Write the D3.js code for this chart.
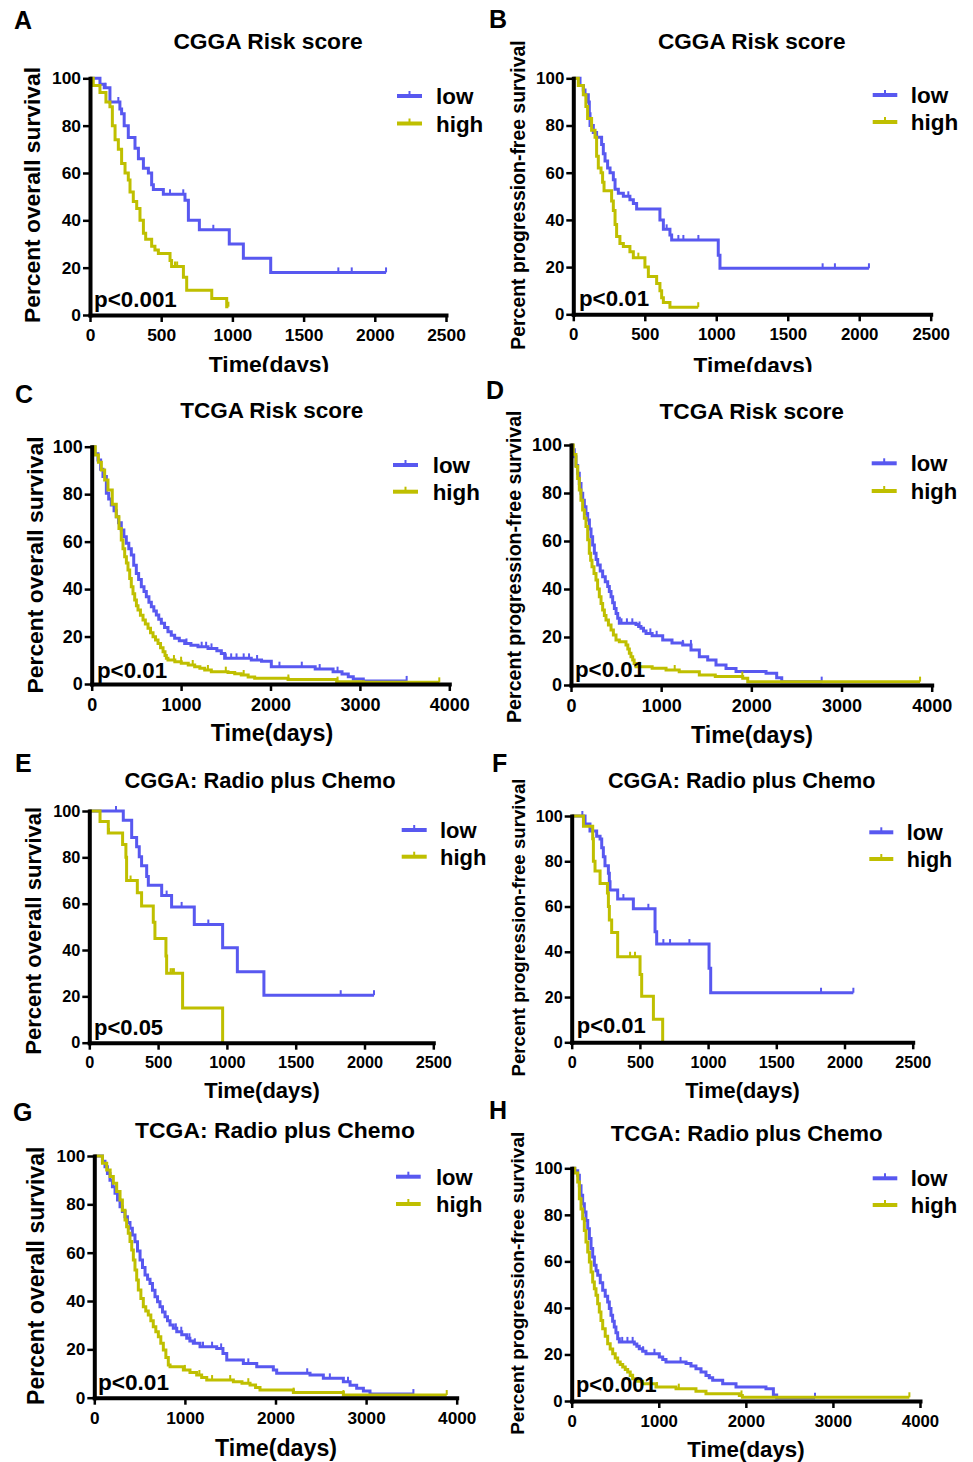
<!DOCTYPE html>
<html>
<head>
<meta charset="utf-8">
<script src="https://cdn.jsdelivr.net/npm/d3@7"></script>
<style>
  body { margin: 0; background: #fff; }
  text { font-family: "Liberation Sans", Arial, sans-serif; font-weight: bold; fill: #000; }
</style>
</head>
<body>
<div id="chart"></div>
<script>
// ---- labels ----
var panelLetters = ["A", "B", "C", "D", "E", "F", "G", "H"];
var panelTitles = ["CGGA Risk score", "CGGA Risk score", "TCGA Risk score", "TCGA Risk score",
                   "CGGA: Radio plus Chemo", "CGGA: Radio plus Chemo", "TCGA: Radio plus Chemo", "TCGA: Radio plus Chemo"];
var yTitles = ["Percent overall survival", "Percent progression-free survival",
               "Percent overall survival", "Percent progression-free survival",
               "Percent overall survival", "Percent progression-free survival",
               "Percent overall survival", "Percent progression-free survival"];
var pTexts = ["p<0.001", "p<0.01", "p<0.01", "p<0.01", "p<0.05", "p<0.01", "p<0.01", "p<0.001"];
var groups = ["low", "high"];
var xTitle = "Time(days)";
var yTicks = [0, 20, 40, 60, 80, 100];
var xTicksShort = [0, 500, 1000, 1500, 2000, 2500];
var xTicksLong = [0, 1000, 2000, 3000, 4000];

// ---- survival curves: [day, percent] at each step ----
var aLow = [[0,100],[70,97.5],[100,96],[140,90],[210,87],[222,85],[240,80],[269,75],[316,70.5],[340,66],[375,62],[410,60],[433,55],[445,53],[515,51],[667,48.5],[691,40],[768,36],[978,30],[1077,24],[1269,18],[2079,18]];
var aHigh = [[0,100],[23,97],[70,94],[112,90],[140,88],[157,80],[176,74],[199,70],[222,64],[246,60],[269,57],[281,52],[304,48],[328,45],[351,40],[375,34.5],[391,32],[433,29],[456,27.5],[480,26],[562,23],[573,20.5],[656,16],[679,10.5],[855,7],[960,3.5],[972,3.5]];
var aLowCens = [110, 199, 562, 655, 866, 1744, 1838, 2079];
var aHighCens = [597, 612, 972];

var bLow = [[0,100],[47,97],[70,95],[82,93],[105,90],[112,85],[117,80],[140,77],[163,75],[198,72],[210,68],[222,65],[240,62],[257,60],[280,57],[292,53],[315,51.3],[350,50],[396,48.5],[420,47],[443,44.6],[606,40],[630,36],[676,33.6],[688,31.5],[1014,25],[1026,19.5],[2068,19.5]];
var bHigh = [[0,100],[35,97],[70,93],[88,88],[100,83],[128,78],[152,75],[163,67],[175,62],[194,60],[205,56],[215,52.3],[268,48],[280,44],[292,38],[303,33],[326,30],[350,28.7],[396,26.5],[420,24],[501,20],[525,16],[583,13],[606,10],[618,7],[630,5],[676,3],[874,3]];
var bLowCens = [75, 385, 653, 735, 770, 875, 1744, 1830, 2068];
var bHighCens = [455, 874];

var cLow = [[0,100],[35,97],[70,94.4],[100,90.5],[126,87.4],[164,80.4],[190,78],[219,75.4],[250,73],[275,70.5],[300,68],[331,64.9],[360,62],[387,59.3],[415,57],[443,54.4],[470,50],[499,46.6],[525,44],[555,41],[585,39],[611,36.8],[640,34.5],[667,32.6],[695,30.8],[723,29.1],[750,27.3],[779,25.6],[815,23.8],[853,22],[890,20.5],[928,19.3],[980,18.2],[1040,17.1],[1110,16.3],[1189,15.7],[1301,15],[1400,14],[1450,12.9],[1487,10.8],[1785,10.1],[1900,9.6],[2009,7.3],[2500,6.3],[2700,5.2],[2800,4.2],[2870,3.1],[2926,2.1],[3038,1.3],[3523,1.3]];
var cHigh = [[0,100],[40,96.5],[75,93.5],[108,90.2],[145,86],[182,81.8],[230,75.8],[275,70.5],[305,65.5],[331,60.7],[350,57],[369,53.6],[388,51],[406,48],[425,44.5],[443,41],[462,38],[481,35.4],[500,33],[518,31.2],[545,29],[574,27],[600,25.3],[630,23.5],[658,21.6],[686,19.9],[714,18.5],[742,17.1],[770,15.3],[798,13.6],[820,12],[835,10.8],[853,10.1],[930,9.4],[1002,8.7],[1080,8],[1152,7.3],[1210,6.6],[1264,5.9],[1338,5.2],[1525,4.8],[1600,4.3],[1673,3.8],[1750,3],[1823,2.4],[2196,1.9],[2740,1],[3038,0.7],[3888,0.7]];
var cLowCens = [1060, 1230, 1280, 1340, 1500, 1560, 1620, 1700, 1760, 1850, 2100, 2350, 2550, 2750, 3523];
var cHighCens = [920, 1000, 1130, 1300, 1500, 1700, 2200, 2750, 3888];

var dLow = [[0,100],[20,98],[37,95.1],[55,91.5],[74,88.2],[92,84],[111,79.9],[130,77],[148,74.3],[166,71.5],[185,68.75],[204,65],[222,61.8],[240,58.3],[259,54.9],[278,52.3],[296,50],[324,47.5],[351,45.1],[380,43],[407,41],[425,39],[444,36.8],[462,34.3],[481,31.9],[500,29.8],[518,27.8],[536,25.7],[721,25.2],[750,24.4],[776,23.6],[804,22.5],[832,21.5],[900,20.5],[1017,18.75],[1120,17.5],[1239,16.7],[1331,14.6],[1423,11.8],[1516,10.4],[1608,8.3],[1719,6.9],[1830,5.6],[2163,4.9],[2281,3],[2337,1.4],[2780,1.4]];
var dHigh = [[0,100],[25,96],[55,91],[74,86],[92,81.25],[110,77],[129,72.9],[148,69.5],[166,66],[185,60.5],[203,54.9],[218,52],[233,49.3],[255,46.5],[277,43.75],[295,40],[314,36.8],[333,34],[351,31.25],[370,29],[388,27.1],[415,25],[444,22.9],[470,20.8],[499,18.75],[536,18],[610,16.7],[630,15],[647,13.2],[665,11.8],[684,10.4],[700,9],[721,7.6],[900,7],[1054,6.25],[1200,5.5],[1423,4.2],[1600,3.5],[1904,2.8],[1960,1.4],[3871,1.4]];
var dLowCens = [560, 620, 680, 760, 880, 950, 1240, 1330, 2780];
var dHighCens = [760, 1150, 1900, 3871];

var eLow = [[0,100],[247,96],[308,88.6],[344,84.6],[363,80.3],[380,76.4],[417,71.7],[429,68],[526,63.5],[598,58.6],[763,51],[969,41],[1076,30.6],[1269,20.5],[2069,20.5]];
var eHigh = [[0,100],[78,95.5],[138,90.5],[242,85.5],[266,80],[271,70],[349,64.7],[380,59],[465,52],[477,45],[557,37.4],[562,30],[678,15],[969,0]];
var eLowCens = [194, 562, 671, 865, 1827, 2069];
var eHighCens = [143, 300, 591, 603, 615];

var fLow = [[0,100],[98,96.5],[134,93.4],[183,91],[208,89.8],[220,86],[232,82],[244,78],[269,74.7],[276,71],[281,67.3],[337,63.3],[452,59],[611,48.9],[623,43.4],[1007,32.7],[1019,21.9],[2065,21.9]];
var fHigh = [[0,100],[86,95.5],[154,90],[159,80],[171,75.7],[208,70.2],[262,66],[269,60],[276,54],[293,48.5],[337,37.8],[501,30],[513,20.4],[599,10.2],[667,0]];
var fLowCens = [78, 147, 379, 562, 672, 721, 863, 1828, 2065];
var fHighCens = [428, 464];

var gLow = [[0,100],[63,100],[90,97.8],[118,95.6],[145,92.8],[173,90],[200,87.3],[229,84.6],[256,81.8],[284,79],[310,77],[339,74.9],[366,72.5],[394,70.1],[420,67.3],[449,64.5],[477,60.7],[505,57],[532,53.9],[560,50.8],[588,49],[615,47.3],[642,44.5],[670,41.8],[698,39.7],[725,37.6],[753,35.5],[781,33.5],[808,31.8],[836,30.1],[872,28.7],[910,27.3],[965,26],[1020,24.6],[1055,23.5],[1093,22.5],[1167,21.1],[1351,20.4],[1420,18.3],[1462,15.6],[1645,14.2],[1793,12.8],[1976,11.5],[2013,10.1],[2381,9.4],[2528,8],[2749,6.6],[2823,5.2],[2896,3.9],[2970,2.8],[3043,1.5],[3522,1.5]];
var gHigh = [[0,100],[44,100],[90,97],[137,94.2],[175,91.5],[210,88.7],[247,85.3],[284,81.8],[310,77.6],[339,73.5],[357,70.7],[375,68],[394,64.6],[413,61.1],[431,57],[449,52.8],[468,48.7],[486,44.6],[514,41],[541,37.6],[568,35.9],[596,34.2],[624,31.8],[651,29.4],[679,27.3],[707,25.2],[734,22.5],[762,19.7],[790,16.6],[817,13.5],[836,12.8],[983,11.5],[1056,10.4],[1130,9.4],[1185,8.4],[1241,7.3],[1535,6.6],[1630,6],[1719,5.3],[1780,4.2],[1829,3.2],[2197,2.1],[2749,1.1],[3890,1.1]];
var gLowCens = [900, 960, 1050, 1110, 1200, 1300, 1400, 1700, 2350, 2600, 2800, 3522];
var gHighCens = [1000, 1160, 1300, 1500, 1700, 2200, 2750, 3890];

var hLow = [[0,100],[35,99],[69,97],[88,92.5],[107,88.4],[126,84.8],[145,81.2],[164,77.6],[184,74],[203,69.8],[222,65.5],[241,61.9],[260,58.3],[280,56],[299,54],[328,50.8],[356,47.6],[385,45],[413,42.5],[432,39.7],[451,36.8],[470,34.3],[489,31.8],[508,29.3],[528,26.8],[547,25.4],[719,24.5],[748,23.5],[776,22.5],[815,21.4],[853,20.3],[1006,18.9],[1045,17.8],[1083,16.8],[1313,16.1],[1370,15],[1427,13.9],[1485,12.5],[1542,11],[1580,10],[1619,8.9],[1734,7.4],[1887,6],[2231,5.3],[2316,2.6],[2354,1.4],[2794,1.4]];
var hHigh = [[0,100],[35,98],[69,94.1],[88,86.9],[107,82.5],[126,78.3],[145,73.3],[164,68.3],[184,64],[203,59.7],[222,55.4],[241,51.1],[260,48.2],[279,45.4],[298,41.8],[317,38.2],[336,34.6],[356,31.1],[385,27.8],[413,24.6],[442,22.4],[471,20.3],[500,18.5],[528,16.8],[557,15.7],[586,14.6],[615,13.5],[643,12.5],[672,11],[700,9.6],[758,8.5],[815,7.4],[968,6],[1198,5.3],[1427,4.2],[1542,3.1],[1925,2.4],[1960,1.6],[3878,1.6]];
var hLowCens = [580, 640, 700, 820, 950, 1250, 2794];
var hHighCens = [700, 980, 1230, 1950, 3878];

var colors = ["#5858f0", "#bfbf00"];

// ---- layout of the 8 panels (pixel positions) ----
var panels = [
  {x0: 90, x1: 446, yTop: 78.3, yBot: 315, xTicks: xTicksShort, tick: 17.4,
   letter: [14, 29], title: [268, 49, 22.8], ylab: [40, 195, 22.8], xlab: [269, 371.5, 22.9],
   p: [94, 307, 22.4], leg: [397, 422, 96, 123.5, 436, 22.4], clip: true,
   curves: [[aLow, aLowCens], [aHigh, aHighCens]]},
  {x0: 573.3, x1: 930.7, yTop: 78.3, yBot: 314.3, xTicks: xTicksShort, tick: 16.9,
   letter: [489, 28], title: [751.7, 49, 22.6], ylab: [525, 195, 19.4], xlab: [753, 372.5, 22.6],
   p: [579, 306, 22.3], leg: [872.7, 897.3, 95, 122, 910.7, 22.5], clip: true,
   curves: [[bLow, bLowCens], [bHigh, bHighCens]]},
  {x0: 91.7, x1: 449.3, yTop: 446.7, yBot: 684, xTicks: xTicksLong, tick: 18,
   letter: [15, 403], title: [271.7, 418, 22.5], ylab: [42.7, 565, 22.9], xlab: [272, 740.5, 23.3],
   p: [97, 677.7, 22.3], leg: [393, 418, 465, 491.7, 432.7, 22.4],
   curves: [[cLow, cLowCens], [cHigh, cHighCens]]},
  {x0: 571, x1: 931.7, yTop: 445, yBot: 685, xTicks: xTicksLong, tick: 18,
   letter: [486, 399], title: [751.7, 419, 22.7], ylab: [520.7, 566.7, 19.6], xlab: [752, 742.5, 23.2],
   p: [575, 677, 22.3], leg: [871.7, 896.7, 463.3, 491, 910.7, 22],
   curves: [[dLow, dLowCens], [dHigh, dHighCens]]},
  {x0: 89.3, x1: 433.3, yTop: 811, yBot: 1042.7, xTicks: xTicksShort, tick: 16.3,
   letter: [15, 772], title: [260, 788, 21.9], ylab: [40.7, 930.8, 22.1], xlab: [262, 1098, 22],
   p: [94, 1035, 22], leg: [401.7, 426.7, 830, 856.7, 440, 22],
   curves: [[eLow, eLowCens], [eHigh, eHighCens]]},
  {x0: 571.7, x1: 912.7, yTop: 816, yBot: 1042.3, xTicks: xTicksShort, tick: 16.2,
   letter: [492, 772], title: [741.7, 788, 21.6], ylab: [525, 927.5, 18.7], xlab: [742.5, 1097.5, 21.8],
   p: [576.7, 1033, 22], leg: [869.3, 893.3, 832.3, 859, 906.7, 21.6],
   curves: [[fLow, fLowCens], [fHigh, fHighCens]]},
  {x0: 94.3, x1: 456.7, yTop: 1156, yBot: 1397.7, xTicks: xTicksLong, tick: 17.2,
   letter: [13, 1121], title: [275, 1138, 22.9], ylab: [44, 1275.8, 23], xlab: [276, 1456, 23.2],
   p: [98, 1390, 22.6], leg: [396, 420.7, 1176.7, 1204, 436, 22],
   curves: [[gLow, gLowCens], [gHigh, gHighCens]]},
  {x0: 571.7, x1: 920, yTop: 1168.3, yBot: 1401, xTicks: xTicksLong, tick: 16.8,
   letter: [489, 1119], title: [746.7, 1140.7, 22.25], ylab: [524, 1283.3, 19], xlab: [746, 1457, 22.3],
   p: [576, 1391.7, 21.8], leg: [872.7, 897.3, 1178.3, 1205, 910.7, 22],
   curves: [[hLow, hLowCens], [hHigh, hHighCens]]}
];

var W = 973, H = 1462;
var svg = d3.select("#chart").append("svg")
    .attr("width", W)
    .attr("height", H);

svg.append("rect").attr("width", W).attr("height", H).attr("fill", "#fff");

// the top row is cropped just under its x-axis title in the figure
svg.append("defs").append("clipPath")
    .attr("id", "cropTop")
  .append("rect")
    .attr("x", 0).attr("y", 0)
    .attr("width", W).attr("height", 372);

function drawPanel(p, i) {
  var g = svg.append("g");
  var xMax = d3.max(p.xTicks);

  var x = d3.scaleLinear().domain([0, xMax]).range([p.x0, p.x1]);
  var y = d3.scaleLinear().domain([0, 100]).range([p.yBot, p.yTop]);

  // Kaplan-Meier step curves
  var line = d3.line()
    .x(function(d) { return x(d[0]); })
    .y(function(d) { return y(d[1]); })
    .curve(d3.curveStepAfter);

  var bis = d3.bisector(function(d) { return d[0]; }).right;

  p.curves.forEach(function(c, k) {
    var pts = c[0], cens = c[1];
    g.append("path")
      .datum(pts)
      .attr("d", line)
      .attr("fill", "none")
      .attr("stroke", colors[k])
      .attr("stroke-width", 3);

    // censor ticks
    g.selectAll(null)
      .data(cens)
      .enter()
      .append("line")
        .attr("x1", function(t) { return x(t); })
        .attr("x2", function(t) { return x(t); })
        .attr("y1", function(t) { return y(pts[Math.max(0, bis(pts, t) - 1)][1]); })
        .attr("y2", function(t) { return y(pts[Math.max(0, bis(pts, t) - 1)][1]) - 5; })
        .attr("stroke", colors[k])
        .attr("stroke-width", 2);
  });

  // axes
  var yAxis = g.append("g")
    .attr("transform", "translate(" + p.x0 + ",0)")
    .call(d3.axisLeft(y).tickValues(yTicks).tickFormat(d3.format("d"))
      .tickSize(7).tickSizeOuter(0).tickPadding(2));
  var xAxis = g.append("g")
    .attr("transform", "translate(0," + p.yBot + ")")
    .call(d3.axisBottom(x).tickValues(p.xTicks).tickFormat(d3.format("d"))
      .tickSize(7).tickSizeOuter(0).tickPadding(7));

  [yAxis, xAxis].forEach(function(a) {
    a.select(".domain").attr("stroke", "#000").attr("stroke-width", 4).attr("stroke-linecap", "square");
    a.selectAll(".tick line").attr("stroke", "#000").attr("stroke-width", 2.5);
    a.selectAll(".tick text").style("font-size", p.tick + "px");
  });

  // p value
  g.append("text")
    .attr("x", p.p[0])
    .attr("y", p.p[1])
    .style("font-size", p.p[2] + "px")
    .text(pTexts[i]);

  // title
  g.append("text")
    .attr("x", p.title[0])
    .attr("y", p.title[1])
    .attr("text-anchor", "middle")
    .style("font-size", p.title[2] + "px")
    .text(panelTitles[i]);

  // panel letter
  g.append("text")
    .attr("x", p.letter[0])
    .attr("y", p.letter[1])
    .style("font-size", "25px")
    .text(panelLetters[i]);

  // y axis title
  g.append("text")
    .attr("transform", "translate(" + p.ylab[0] + "," + p.ylab[1] + ") rotate(-90)")
    .attr("text-anchor", "middle")
    .style("font-size", p.ylab[2] + "px")
    .text(yTitles[i]);

  // x axis title
  var xt = g.append("text")
    .attr("x", p.xlab[0])
    .attr("y", p.xlab[1])
    .attr("text-anchor", "middle")
    .style("font-size", p.xlab[2] + "px")
    .text(xTitle);
  if (p.clip) xt.attr("clip-path", "url(#cropTop)");

  // legend
  var lg = p.leg;
  groups.forEach(function(name, k) {
    var ly = k === 0 ? lg[2] : lg[3];
    g.append("line")
      .attr("x1", lg[0]).attr("x2", lg[1])
      .attr("y1", ly).attr("y2", ly)
      .attr("stroke", colors[k])
      .attr("stroke-width", 4);
    g.append("line")
      .attr("x1", (lg[0] + lg[1]) / 2).attr("x2", (lg[0] + lg[1]) / 2)
      .attr("y1", ly).attr("y2", ly - 5)
      .attr("stroke", colors[k])
      .attr("stroke-width", 2);
    g.append("text")
      .attr("x", lg[4])
      .attr("y", ly)
      .attr("dy", "0.36em")
      .style("font-size", lg[5] + "px")
      .text(name);
  });
}

panels.forEach(drawPanel);
</script>
</body>
</html>
